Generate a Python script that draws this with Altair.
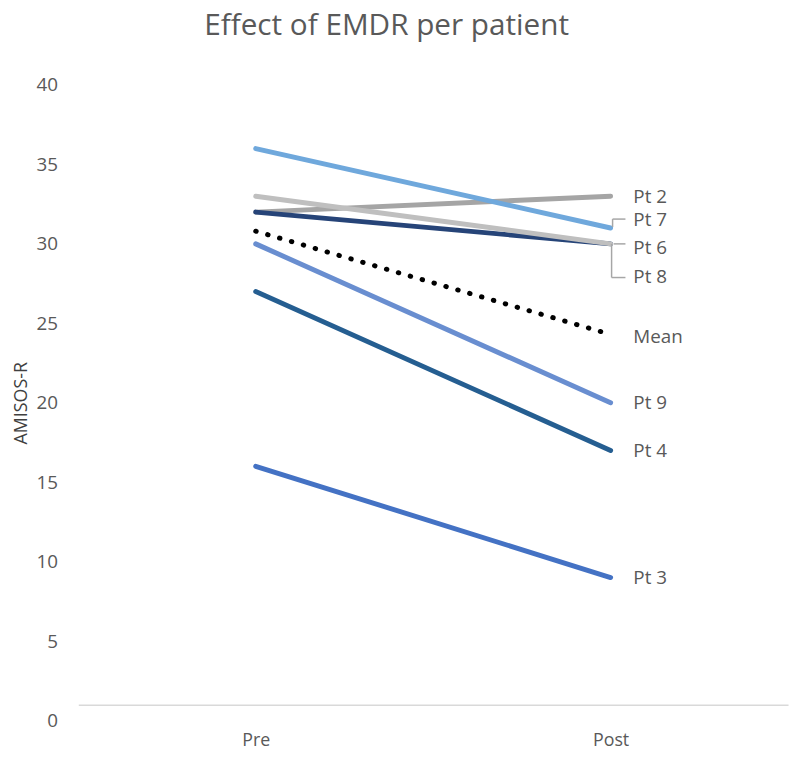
import altair as alt
import pandas as pd

# ---- data ----
patients = ["Pt 2", "Pt 3", "Pt 4", "Pt 6", "Pt 7", "Pt 8", "Pt 9"]
pre_scores = [32, 16, 27, 32, 36, 33, 30]
post_scores = [33, 9, 17, 30, 31, 30, 20]
mean_pre = 30.8
mean_post = 24.3
phases = ["Pre", "Post"]
y_ticks = [0, 5, 10, 15, 20, 25, 30, 35, 40]

# ---- styles ----
colors = {
    "Pt 2": "#A5A5A5",
    "Pt 3": "#4472C4",
    "Pt 4": "#255E91",
    "Pt 6": "#264478",
    "Pt 7": "#6FA8DC",
    "Pt 8": "#BFBFBF",
    "Pt 9": "#698ED0",
}
label_dy = {"Pt 2": 1, "Pt 3": 1, "Pt 4": 1, "Pt 6": 4, "Pt 7": -8, "Pt 8": 34, "Pt 9": 0, "Mean": 3}
FONT = "Open Sans"
GREY = "#595959"

rows = []
for p, a, b in zip(patients, pre_scores, post_scores):
    rows.append({"name": p, "phase": phases[0], "score": a})
    rows.append({"name": p, "phase": phases[1], "score": b})
df = pd.DataFrame(rows)
mean_df = pd.DataFrame({"name": ["Mean", "Mean"], "phase": phases, "score": [mean_pre, mean_post]})
end_df = pd.concat([df[df.phase == "Post"], mean_df[mean_df.phase == "Post"]])

W, H = 717, 642
x_enc = alt.X("phase:N", sort=phases, scale=alt.Scale(type="point", padding=0.5),
              axis=alt.Axis(title=None, ticks=False, grid=False, domain=True,
                            domainColor="#D9D9D9", domainWidth=1.5, offset=-16,
                            labelPadding=27, labelAngle=0, labelFont=FONT,
                            labelFontSize=18, labelColor=GREY))
y_enc = alt.Y("score:Q", scale=alt.Scale(domain=[0, 40], nice=False, zero=True),
              axis=alt.Axis(values=y_ticks, title="AMISOS-R", grid=False, ticks=False,
                            domain=False, labelPadding=21, labelFont=FONT,
                            labelFontSize=19, labelColor=GREY,
                            titleFont=FONT, titleFontSize=18, titleFontWeight="normal",
                            titleColor="#404040", titleX=-52, titleY=H / 2,
                            titleAngle=-90, titleAlign="center", titleBaseline="alphabetic"))

layers = []
for p in patients:
    layers.append(
        alt.Chart(df[df.name == p]).mark_line(strokeWidth=5, color=colors[p], strokeCap="round")
        .encode(x=x_enc, y=y_enc)
    )

mean_line = alt.Chart(mean_df).mark_line(
    strokeWidth=5, color="black", strokeDash=[0.5, 12], strokeCap="round"
).encode(x=x_enc, y=y_enc)
layers.append(mean_line)

lead_color = "#A6A6A6"
post_df = df[df.phase == "Post"]
# Leader lines for Pt 7 (up), Pt 6 (straight), Pt 8 (down)
pt7 = post_df[post_df.name == "Pt 7"]
pt6 = post_df[post_df.name == "Pt 6"]
pt8 = post_df[post_df.name == "Pt 8"]
lead_enc = dict(x=alt.X("phase:N", sort=phases, scale=alt.Scale(type="point", padding=0.5)),
                y=alt.Y("score:Q", scale=alt.Scale(domain=[0, 40])),
                x2="phase:N", y2="score:Q")
layers += [
    alt.Chart(pt7).mark_rule(color=lead_color, strokeWidth=1.5, xOffset=2, x2Offset=2, yOffset=-1, y2Offset=-9).encode(**lead_enc),
    alt.Chart(pt7).mark_rule(color=lead_color, strokeWidth=1.5, xOffset=2, x2Offset=15, yOffset=-9, y2Offset=-9).encode(**lead_enc),
    alt.Chart(pt6).mark_rule(color=lead_color, strokeWidth=1.5, xOffset=3, x2Offset=15, yOffset=0, y2Offset=0).encode(**lead_enc),
    alt.Chart(pt8).mark_rule(color=lead_color, strokeWidth=1.5, xOffset=1, x2Offset=1, yOffset=0, y2Offset=34).encode(**lead_enc),
    alt.Chart(pt8).mark_rule(color=lead_color, strokeWidth=1.5, xOffset=1, x2Offset=15, yOffset=34, y2Offset=34).encode(**lead_enc),
]

for name in list(patients) + ["Mean"]:
    layers.append(
        alt.Chart(end_df[end_df.name == name]).mark_text(
            align="left", baseline="middle", dx=23, dy=label_dy[name],
            font=FONT, fontSize=19, color=GREY
        ).encode(x=alt.X("phase:N", sort=phases, scale=alt.Scale(type="point", padding=0.5)),
                 y=alt.Y("score:Q", scale=alt.Scale(domain=[0, 40])),
                 text="name:N")
    )

chart = alt.layer(*layers).properties(
    width=W, height=H,
    title=alt.TitleParams("Effect of EMDR per patient", font=FONT, fontSize=30,
                          fontWeight="normal", color=GREY, anchor="middle", dx=-47,
                          offset=36),
    autosize=alt.AutoSizeParams(type="none"),
    padding={"left": 71, "top": 74, "right": 4, "bottom": 26},
).configure_view(stroke=None).configure_axis(labelFontWeight="normal")

chart.save("out.html", embed_options={"renderer": "svg", "actions": False})
